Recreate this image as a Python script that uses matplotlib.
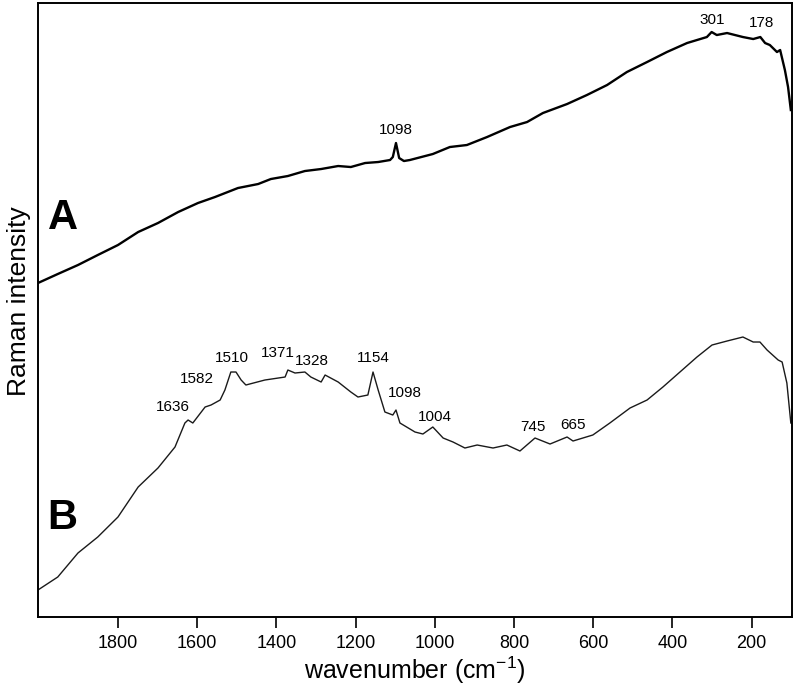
import numpy as np
import matplotlib.pyplot as plt

plt.rcParams['font.family'] = ['Liberation Sans', 'DejaVu Sans']
plt.rcParams['mathtext.default'] = 'regular'

# spectrum A (upper trace), wavenumber in cm-1, intensity in arbitrary units
wn_a = [2002, 1952, 1901, 1851, 1800, 1749, 1699, 1648, 1598, 1555, 1497, 1446,
        1414, 1371, 1328, 1287, 1244, 1212, 1176, 1143, 1113, 1106, 1098, 1090,
        1078, 1063, 1005, 962, 919, 868, 810, 767, 727, 666, 616, 565, 515, 464,
        414, 363, 313, 301, 288, 262, 222, 196, 178, 166, 154, 136, 128, 116, 108, 101]
int_a = [334, 343, 352, 362, 372, 385, 394, 405, 414, 420, 429, 433,
         438, 441, 446, 448, 451, 450, 454, 455, 457, 460, 474, 459,
         456, 457, 463, 470, 472, 480, 490, 495, 504, 513, 522, 532, 545, 555,
         565, 574, 580, 585, 582, 584, 580, 578, 580, 574, 572, 565, 567, 547, 530, 507]

# spectrum B (lower trace)
wn_b = [2002, 1952, 1901, 1851, 1800, 1749, 1699, 1656, 1631, 1623, 1611, 1580,
        1565, 1542, 1530, 1515, 1502, 1489, 1477, 1429, 1378, 1371, 1353, 1328,
        1313, 1287, 1277, 1244, 1212, 1194, 1169, 1156, 1143, 1126, 1106, 1098,
        1088, 1050, 1030, 1005, 979, 954, 924, 893, 853, 818, 785, 747, 709, 666,
        651, 601, 558, 507, 464, 424, 381, 338, 300, 262, 222, 196, 179, 161, 133,
        123, 111, 101]
int_b = [27, 40, 64, 80, 100, 130, 149, 170, 194, 197, 194, 210,
         212, 217, 227, 245, 245, 237, 232, 237, 240, 247, 244, 245,
         240, 235, 242, 235, 225, 220, 222, 245, 227, 205, 202, 207,
         194, 185, 183, 190, 179, 175, 169, 172, 169, 172, 166, 179, 173, 180,
         176, 182, 194, 209, 217, 230, 245, 260, 272, 276, 280, 275, 275, 267, 257,
         255, 234, 194]

# peak labels: (text, wavenumber, height)
labels_a = [("1098", 1098, 487), ("301", 300, 597), ("178", 174, 594)]
labels_b = [("1636", 1661, 210), ("1582", 1601, 238), ("1510", 1512, 259),
            ("1371", 1396, 264), ("1328", 1310, 256), ("1154", 1154, 259),
            ("1098", 1075, 224), ("1004", 1000, 200), ("745", 752, 190),
            ("665", 651, 192)]

fig = plt.figure(figsize=(7.96, 6.88), dpi=100)
ax = fig.add_axes([0.0477, 0.1032, 0.9473, 0.8924])

ax.plot(wn_a, int_a, color='black', lw=1.7)
ax.plot(wn_b, int_b, color='#1a1a1a', lw=1.0)

for txt, x, y in labels_a + labels_b:
    ax.text(x, y, txt, fontsize=11, ha='center', va='center')

ax.text(1940, 399, "A", fontsize=30, fontweight='bold', ha='center', va='center')
ax.text(1940, 99, "B", fontsize=30, fontweight='bold', ha='center', va='center')

ax.set_xlim(2002, 98)
ax.set_ylim(0, 614)
ax.set_xticks([1800, 1600, 1400, 1200, 1000, 800, 600, 400, 200])
ax.set_yticks([])
ax.tick_params(axis='x', length=8, width=1.2, labelsize=13, pad=5)
for s in ax.spines.values():
    s.set_linewidth(1.4)

ax.set_xlabel("wavenumber (cm$^{-1}$)", fontsize=18, labelpad=2)
ax.set_ylabel("Raman intensity", fontsize=19)
ax.yaxis.set_label_coords(-0.009, 0.515)

fig.savefig("out.png", dpi=100)
